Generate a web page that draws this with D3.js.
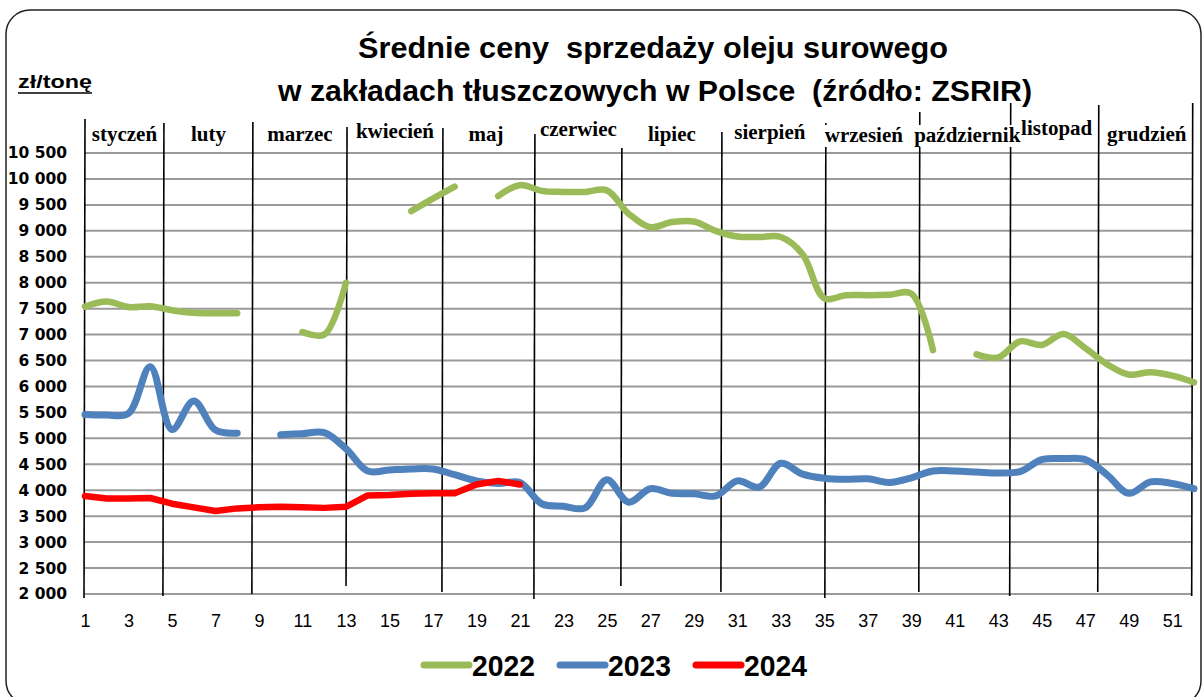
<!DOCTYPE html>
<html>
<head>
<meta charset="utf-8">
<script src="https://cdn.jsdelivr.net/npm/d3@7"></script>
<style>
  body { margin: 0; background: #fff; }
  svg { display: block; }
</style>
</head>
<body>
<div id="canvas"></div>
<script>
// data (PLN / tonne, weekly)
const weeks = d3.range(1, 53);
const values2022 = [7540, 7640, 7530, 7545, 7470, 7420, 7410, 7410, null, null,
    7050, 7000, 8000, null, null, 9380, 9620, 9850, null, 9670,
    9880, 9770, 9750, 9750, 9780, 9330, 9070, 9170, 9180, 9000,
    8890, 8880, 8880, 8550, 7700, 7760, 7760, 7770, 7790, 6700,
    null, 6620, 6560, 6870, 6800, 7010, 6740, 6430, 6230, 6275,
    6210, 6080];
const values2023 = [5460, 5450, 5480, 6380, 5170, 5720, 5160, 5100, null, 5070,
    5090, 5110, 4800, 4370, 4390, 4410, 4410, 4300, 4180, 4130,
    4150, 3740, 3690, 3660, 4200, 3770, 4030, 3940, 3930, 3890,
    4180, 4060, 4520, 4310, 4230, 4210, 4220, 4150, 4240, 4370,
    4370, 4350, 4330, 4360, 4590, 4610, 4590, 4300, 3940, 4160,
    4130, 4030];
const values2024 = [3890, 3840, 3840, 3850, 3740, 3670, 3600, 3650, 3670, 3680,
    3670, 3660, 3680, 3900, 3910, 3930, 3940, 3940, 4110, 4180,
    4110];

const seriesNames = ["2022", "2023", "2024"];
const seriesColors = ["#9BBB59", "#4F81BD", "#FF0000"];

const months = ["styczeń", "luty", "marzec", "kwiecień", "maj", "czerwiec",
    "lipiec", "sierpień", "wrzesień", "październik", "listopad", "grudzień"];
// month borders in week units
const monthEdges = [1, 4.63, 8.72, 13.05, 17.46, 21.69, 25.69, 30.29, 35.07, 39.39, 43.57, 47.62, 51.94];

const yTicks = [2000, 2500, 3000, 3500, 4000, 4500, 5000, 5500, 6000, 6500,
    7000, 7500, 8000, 8500, 9000, 9500, 10000, 10500];
const xTicks = [1, 3, 5, 7, 9, 11, 13, 15, 17, 19, 21, 23, 25, 27, 29, 31, 33,
    35, 37, 39, 41, 43, 45, 47, 49, 51];

const titleLines = ["Średnie ceny  sprzedaży oleju surowego",
    "w zakładach tłuszczowych w Polsce  (źródło: ZSRIR)"];
const unitLabel = "zł/tonę";

// layout
const W = 1204, H = 697;
const plot = { left: 85, right: 1194, top: 153, bottom: 594 };
const edgeTops = [119, 123, 122, 127, 128, 134, 148, 132, 123, 112, 103, 105, 103];
const edgeBottoms = [598, 596, 594, 586, 592, 599, 586, 592, 598, 592, 596, 592, 596];
const labelNudgeY = [0, 0, 0, -3, 0, -5, 0, -2, 1, 1, -6, 0];
const labelNudgeX = [0, 0, 0, 0, -3, 0, 0, -4, -9, 2, 2, 1];

const svg = d3.select('#canvas').append("svg")
    .attr("width", W)
    .attr("height", H);

svg.append("rect")
    .attr("x", 6).attr("y", 10)
    .attr("width", 1195).attr("height", 695)
    .attr("rx", 24)
    .attr("fill", "#fff")
    .attr("stroke", "#222")
    .attr("stroke-width", 1.5);

const x = d3.scaleLinear()
    .domain([1, 52])
    .range([plot.left, plot.right]);

const y = d3.scaleLinear()
    .domain([2000, 10500])
    .range([plot.bottom, plot.top]);

const pl = d3.formatLocale({ decimal: ",", thousands: " ", grouping: [3], currency: ["", " zł"] });
const fmt = pl.format(",");

// horizontal grid
svg.append("g")
    .selectAll("line")
    .data(yTicks)
    .join("line")
    .attr("x1", plot.left)
    .attr("x2", plot.right - 2)
    .attr("y1", d => y(d))
    .attr("y2", d => y(d))
    .attr("stroke", "#9a9a9a")
    .attr("stroke-width", 2);

// y axis labels
const yAxisGroup = svg.append("g")
    .attr("transform", `translate(69, 0)`)
    .call(d3.axisLeft(y).tickValues(yTicks).tickFormat(fmt).tickSize(0).tickPadding(2));
yAxisGroup.select(".domain").remove();
yAxisGroup.selectAll("text")
    .attr("font-family", "DejaVu Sans, sans-serif")
    .attr("font-weight", "bold")
    .attr("font-size", 15.5)
    .attr("fill", "#000");

// x axis labels
const xAxisGroup = svg.append("g")
    .attr("transform", `translate(0, ${plot.bottom})`)
    .call(d3.axisBottom(x).tickValues(xTicks).tickFormat(d => d).tickSize(0).tickPadding(20));
xAxisGroup.select(".domain").remove();
xAxisGroup.selectAll("text")
    .attr("font-family", "Liberation Sans Narrow, Liberation Sans, sans-serif")
    .attr("font-size", 18)
    .attr("fill", "#000");

// month dividers
svg.append("g")
    .selectAll("line")
    .data(monthEdges)
    .join("line")
    .attr("x1", d => x(d))
    .attr("x2", (d, i) => x(d) - 1)
    .attr("y1", (d, i) => edgeTops[i])
    .attr("y2", (d, i) => edgeBottoms[i])
    .attr("stroke", "#000")
    .attr("stroke-width", 1.6);

// month labels with white boxes
const monthG = svg.append("g");
months.forEach((m, i) => {
    const cx = (x(monthEdges[i]) + x(monthEdges[i + 1])) / 2 + labelNudgeX[i];
    const g = monthG.append("g");
    const t = g.append("text")
        .attr("x", cx)
        .attr("y", 141 + labelNudgeY[i])
        .attr("text-anchor", "middle")
        .attr("font-family", "Liberation Serif, DejaVu Serif, serif")
        .attr("font-weight", "bold")
        .attr("font-size", 21)
        .text(m);
    const b = t.node().getBBox();
    g.insert("rect", "text")
        .attr("x", b.x - 1)
        .attr("y", b.y + 2)
        .attr("width", b.width + 2)
        .attr("height", b.height - 2)
        .attr("fill", "#fff");
});

// series lines
const smooth = d3.line()
    .defined(d => d[1] != null)
    .x(d => x(d[0]))
    .y(d => y(d[1]))
    .curve(d3.curveCatmullRom.alpha(0.5));

const straight = d3.line()
    .defined(d => d[1] != null)
    .x(d => x(d[0]))
    .y(d => y(d[1]));

const allSeries = [values2022, values2023, values2024];
const widths = [6.5, 7, 6.5];
allSeries.forEach((vals, i) => {
    const pts = vals.map((v, j) => [weeks[j], v]);
    svg.append("path")
        .datum(pts)
        .attr("d", i === 2 ? straight : smooth)
        .attr("fill", "none")
        .attr("stroke", seriesColors[i])
        .attr("stroke-width", widths[i])
        .attr("stroke-linecap", "round")
        .attr("stroke-linejoin", "round");
});

// title
svg.selectAll(".title")
    .data(titleLines)
    .join("text")
    .attr("class", "title")
    .attr("x", (d, i) => i === 0 ? 653 : 655)
    .attr("y", (d, i) => i === 0 ? 58 : 101)
    .attr("text-anchor", "middle")
    .attr("font-family", "Liberation Sans, Arial, sans-serif")
    .attr("font-weight", "bold")
    .attr("font-size", 30)
    .attr("textLength", (d, i) => i === 0 ? 590 : 754)
    .attr("lengthAdjust", "spacingAndGlyphs")
    .style("white-space", "pre")
    .attr("fill", "#000")
    .text(d => d);

// unit label
svg.append("text")
    .attr("x", 18)
    .attr("y", 88)
    .attr("font-family", "Liberation Sans, Arial, sans-serif")
    .attr("font-weight", "bold")
    .attr("font-size", 19)
    .attr("textLength", 74)
    .attr("lengthAdjust", "spacingAndGlyphs")
    .text(unitLabel);
svg.append("line")
    .attr("x1", 18).attr("x2", 92)
    .attr("y1", 93).attr("y2", 93)
    .attr("stroke", "#000")
    .attr("stroke-width", 1.5);

// legend
const legend = svg.append("g")
    .attr("transform", "translate(424, 665)");
const item = legend.selectAll("g")
    .data(seriesNames)
    .join("g")
    .attr("transform", (d, i) => `translate(${i * 136}, 0)`);
item.append("line")
    .attr("x1", 0).attr("x2", 45)
    .attr("stroke", (d, i) => seriesColors[i])
    .attr("stroke-width", 7)
    .attr("stroke-linecap", "round");
item.append("text")
    .attr("x", 48)
    .attr("y", 11)
    .attr("font-family", "Liberation Sans Narrow, Liberation Sans, sans-serif")
    .attr("font-weight", "bold")
    .attr("font-size", 29)
    .attr("textLength", 63)
    .attr("lengthAdjust", "spacingAndGlyphs")
    .text(d => d);
</script>
</body>
</html>
